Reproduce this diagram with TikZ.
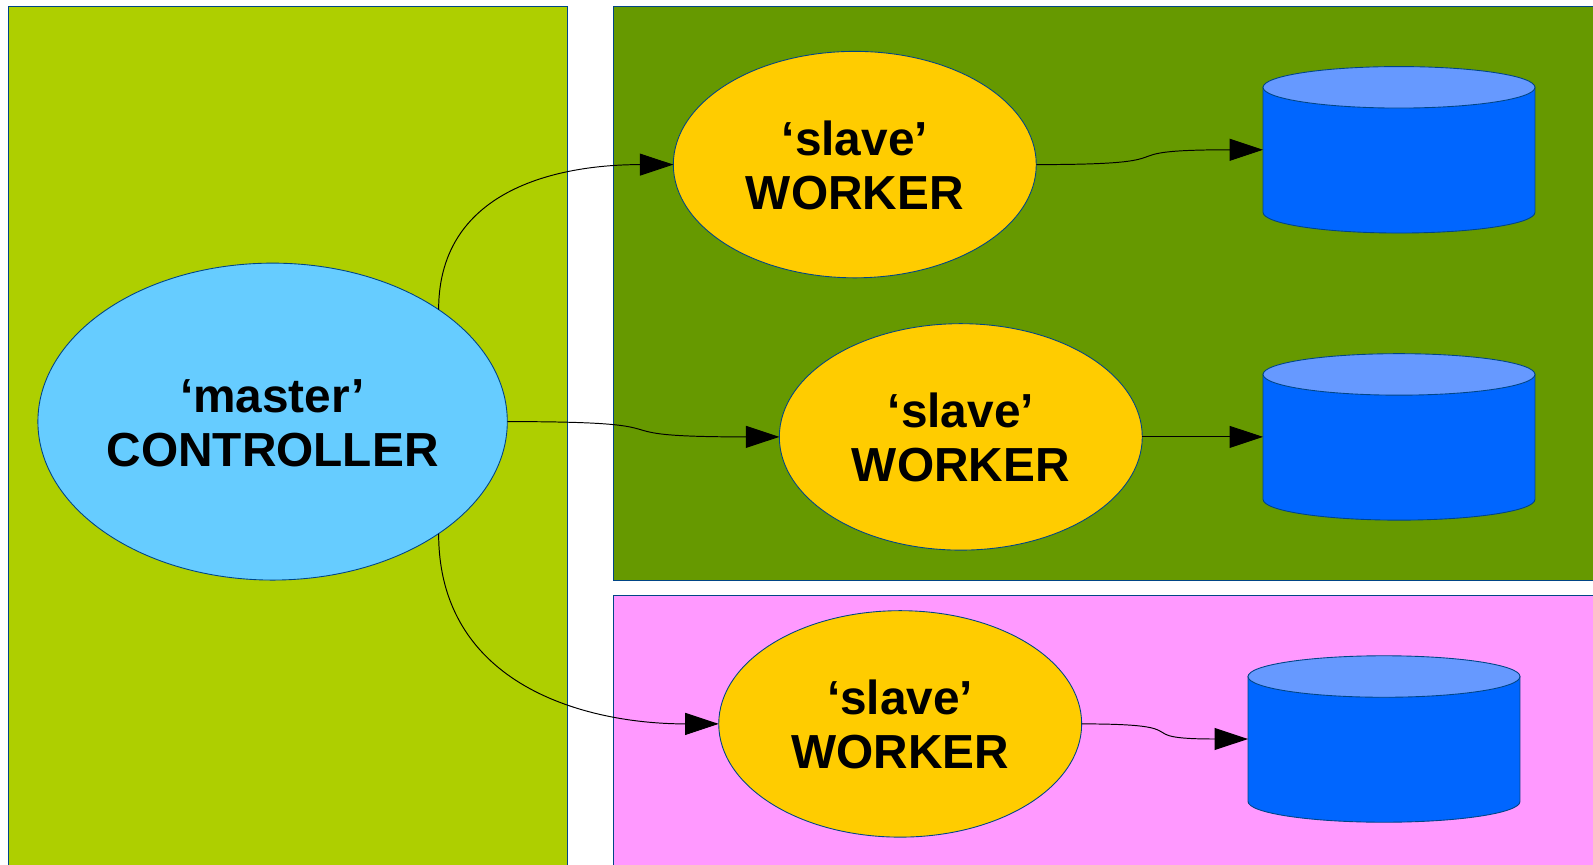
\documentclass[tikz,border=0pt]{standalone}
\usepackage{fontspec}
\setmainfont{Liberation Sans}
\usetikzlibrary{arrows.meta,shapes.geometric}
\definecolor{panelleft}{HTML}{AECF00}
\definecolor{panelgreen}{HTML}{669900}
\definecolor{panelpink}{HTML}{FF99FF}
\definecolor{masterblue}{HTML}{66CCFF}
\definecolor{workeryellow}{HTML}{FFCC00}
\definecolor{dbbody}{HTML}{0066FF}
\definecolor{dbtop}{HTML}{6699FF}
\definecolor{edgeblue}{HTML}{004586}
\tikzset{
    >={Triangle[length=0.67cm,width=0.44cm]},
    panel/.style={draw=edgeblue, line width=0.5pt},
    every ellipse/.style={
        ellipse,
        draw=edgeblue, line width=0.5pt,
        inner sep=0pt, outer sep=0pt,
        align=center,
        font={\fontsize{27.2pt}{30.6pt}\selectfont\bfseries}
    },
    master/.style={
        every ellipse,
        fill=masterblue,
        minimum width=9.39cm,
        minimum height=6.34cm
    },
    worker/.style={
        every ellipse,
        fill=workeryellow,
        minimum width=7.26cm,
        minimum height=4.53cm
    },
    database/.style={
        rectangle,
        minimum width=5.44cm,
        minimum height=3.33cm,
        inner sep=0pt, outer sep=0pt
    },
    dbside/.style={draw=edgeblue, line width=0.5pt, fill=dbbody},
    dbcap/.style={
        every ellipse,
        anchor=north,
        fill=dbtop,
        minimum width=5.44cm,
        minimum height=0.83cm
    },
    line/.style={draw, line width=0.55pt, ->},
}
\begin{document}
\begin{tikzpicture}[x=0.02cm, y=-0.02cm]

\path [use as bounding box, clip] (0,0) rectangle (1593,865);

% panels
\draw [panel, fill=panelleft] (8.5,6) rectangle (567.6,880);
\draw [panel, fill=panelgreen] (613,6) rectangle (1610,580.5);
\draw [panel, fill=panelpink] (613,595) rectangle (1610,880);

\node [master] (master) at (272.6,421.6) {\rule{0pt}{0.72cm}‘master’\\CONTROLLER};

\foreach \m/\x/\y in {1/854.8/164.6, 2/960.8/436.9, 3/900.2/723.9}
  \node [worker] (slave-\m) at (\x,\y) {\rule{0pt}{0.72cm}‘slave’\\WORKER};

\foreach \m/\x/\y in {1/1399/149.8, 2/1399/436.9, 3/1384/739} {
  \node [database] (db-\m) at (\x,\y) {};
  \draw [dbside] ([yshift=-0.415cm]db-\m.north west)
    -- ([yshift=0.415cm]db-\m.south west)
    arc [start angle=180, end angle=360, x radius=2.72cm, y radius=0.415cm]
    -- ([yshift=-0.415cm]db-\m.north east)
    -- cycle;
  \node [dbcap] (dbtop-\m) at (db-\m.north) {};
}

\draw [line] (master.34) to [out=90, in=180, out looseness=1.15] (slave-1.west);
\draw [line] (master.east) to [out=0, in=180, looseness=1.9] (slave-2.west);
\draw [line] (master.-34) to [out=-90, in=180, out looseness=1.15] (slave-3.west);

\draw [line] (slave-1.east) to [out=0, in=180, looseness=1.9] (db-1.west);
\draw [line] (slave-2.east) -- (db-2.west);
\draw [line] (slave-3.east) to [out=0, in=180, looseness=1.9] (db-3.west);

\end{tikzpicture}
\end{document}
